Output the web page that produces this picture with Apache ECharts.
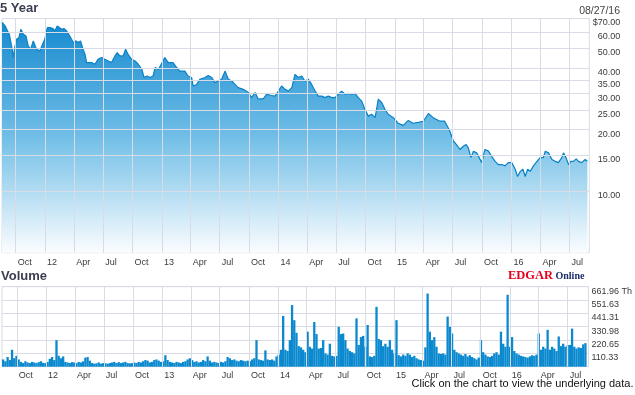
<!DOCTYPE html>
<html><head><meta charset="utf-8">
<script src="https://cdn.jsdelivr.net/npm/echarts@6/dist/echarts.min.js"></script>
<style>html,body{margin:0;padding:0;background:#fff}#c{width:635px;height:395px}</style>
</head><body><div id="c"></div>
<script>
// ---- data ----
const priceDates = ['2011-08-19','2011-08-29','2011-09-05','2011-09-11','2011-09-16','2011-09-20','2011-09-23','2011-09-29','2011-10-04','2011-10-11','2011-10-17','2011-10-25','2011-11-02','2011-11-09','2011-11-17','2011-11-25','2011-11-30','2011-12-05','2011-12-10','2011-12-16','2011-12-24','2011-12-31',
'2012-01-08','2012-01-16','2012-01-26','2012-02-01','2012-02-08','2012-02-14','2012-02-22','2012-02-29','2012-03-08','2012-03-15','2012-03-24','2012-03-29','2012-04-07','2012-04-14','2012-04-21','2012-04-29','2012-05-05','2012-05-10','2012-05-15','2012-05-26','2012-06-05','2012-06-15','2012-06-26','2012-07-06','2012-07-17','2012-07-27','2012-08-07','2012-08-14','2012-08-22','2012-09-02','2012-09-09','2012-09-17','2012-09-28','2012-10-09','2012-10-19','2012-10-30','2012-11-06','2012-11-15','2012-11-25','2012-12-04','2012-12-11','2012-12-21','2012-12-27',
'2013-01-10','2013-01-21','2013-02-05','2013-02-16','2013-02-26','2013-03-14','2013-03-24','2013-04-04','2013-04-09','2013-04-20','2013-04-30','2013-05-16','2013-05-26','2013-06-06','2013-06-16','2013-06-27','2013-07-07','2013-07-18','2013-07-28','2013-08-08','2013-08-18','2013-08-28','2013-09-13','2013-09-29','2013-10-09','2013-10-20','2013-10-30','2013-11-15','2013-11-25','2013-12-11','2013-12-21',
'2014-01-01','2014-01-11','2014-01-22','2014-02-01','2014-02-12','2014-02-22','2014-03-04','2014-03-15','2014-03-25','2014-04-05','2014-04-15','2014-04-26','2014-05-06','2014-05-17','2014-05-27','2014-06-06','2014-06-17','2014-06-27','2014-07-08','2014-07-18','2014-07-29','2014-08-08','2014-08-19','2014-08-29','2014-09-08','2014-09-19','2014-09-29','2014-10-10','2014-10-20','2014-10-31','2014-11-10','2014-11-21','2014-12-01','2014-12-11','2014-12-27',
'2015-01-11','2015-01-27','2015-02-12','2015-02-27','2015-03-15','2015-03-31','2015-04-16','2015-05-01','2015-05-22','2015-06-06','2015-06-12','2015-06-22','2015-07-03','2015-07-13','2015-07-24','2015-08-03','2015-08-12','2015-08-19','2015-08-27','2015-09-04','2015-09-14','2015-09-22','2015-09-30','2015-10-10','2015-10-21','2015-10-31','2015-11-11','2015-11-21','2015-12-02','2015-12-12','2015-12-22',
'2016-01-02','2016-01-13','2016-01-20','2016-01-29','2016-02-06','2016-02-13','2016-02-21','2016-02-29','2016-03-10','2016-03-21','2016-03-31','2016-04-10','2016-04-16','2016-04-26','2016-05-07','2016-05-17','2016-05-27','2016-06-07','2016-06-12','2016-06-20','2016-06-28','2016-07-05','2016-07-13','2016-07-22','2016-07-29','2016-08-08','2016-08-19','2016-08-26'];
const priceValues = [66.9,64.4,60.9,58.6,53.4,49.5,45.1,51.4,55.4,56.5,62.0,58.6,57.5,51.4,49.5,54.4,53.4,49.5,49.5,48.6,52.4,55.4,
63.2,63.2,62.5,60.9,64.4,65.6,62.0,62.5,60.9,58.6,55.4,53.4,54.4,53.4,54.4,49.5,46.8,42.6,41.8,42.6,41.8,44.2,45.1,44.2,43.4,42.6,45.9,47.7,45.9,45.9,49.5,46.8,44.2,43.4,41.8,39.5,36.0,36.6,36.0,36.6,40.3,39.5,41.0,
45.1,42.6,42.6,40.3,38.7,38.7,36.6,36.0,32.7,33.3,35.3,36.0,36.8,36.0,34.0,34.6,35.3,38.7,35.3,34.6,33.3,32.1,31.5,30.4,28.7,30.4,28.2,28.4,29.8,29.4,29.2,
30.9,32.7,31.5,30.9,32.1,37.3,36.0,36.6,34.6,35.3,33.3,30.9,29.2,29.2,28.7,29.2,28.7,28.7,29.8,30.9,29.8,30.1,29.8,30.1,28.7,27.6,25.1,23.3,23.8,22.9,28.2,27.1,25.1,23.8,22.9,
21.5,21.0,22.2,21.5,21.7,22.0,24.0,22.9,22.0,22.0,21.6,19.7,17.6,16.9,16.0,16.6,16.9,16.3,14.6,15.7,15.4,14.6,13.8,16.0,15.7,14.8,14.0,13.5,13.5,13.3,13.8,
13.8,12.8,11.8,12.5,12.8,11.8,12.8,12.5,13.3,14.0,14.6,14.6,15.7,15.4,14.3,14.0,13.8,14.6,15.4,14.6,13.5,14.0,14.0,14.4,14.0,13.8,14.3,14.0];

const volumeStart = '2011-08-19';   // weekly bars from this date
const volumeValues = [60,45,80,55,140,70,90,60,40,30,45,35,30,40,35,30,38,45,32,30,
40,65,80,55,220,90,70,85,40,35,30,38,35,30,40,35,45,75,80,50,
30,25,28,35,25,30,28,25,30,35,40,30,38,30,35,40,30,28,30,35,
30,40,35,45,55,50,35,40,55,60,50,40,45,95,55,40,35,30,40,35,
30,40,45,60,70,55,40,45,35,40,55,45,85,50,35,40,35,30,40,35,
45,80,70,55,60,50,45,55,50,45,50,45,60,70,220,60,55,50,135,60,
55,60,50,85,100,140,420,140,130,220,510,385,280,170,160,140,120,290,165,150,
370,270,150,155,220,110,100,190,90,85,90,330,270,275,220,150,130,120,110,400,
180,245,255,165,345,85,80,90,495,230,220,170,190,165,220,140,110,385,95,85,
100,90,110,100,80,90,70,60,55,50,160,605,290,220,245,165,110,105,110,100,
415,330,275,140,120,110,100,90,105,85,95,80,70,60,75,220,120,100,85,80,
90,110,120,100,290,190,165,595,165,245,130,110,100,90,85,80,75,85,95,90,
100,275,140,165,150,305,140,165,150,130,250,170,190,165,180,180,315,165,150,160,155,185,195];

const quarterTicks = ['2011-10-01','2012-01-01','2012-04-01','2012-07-01','2012-10-01','2013-01-01','2013-04-01','2013-07-01','2013-10-01','2014-01-01','2014-04-01','2014-07-01','2014-10-01','2015-01-01','2015-04-01','2015-07-01','2015-10-01','2016-01-01','2016-04-01','2016-07-01'];
const quarterLabels = ['Oct','12','Apr','Jul','Oct','13','Apr','Jul','Oct','14','Apr','Jul','Oct','15','Apr','Jul','Oct','16','Apr','Jul'];
const priceTicks = [10,15,20,25,30,35,40,50,60,70];
const priceTickLabels = ['10.00','15.00','20.00','25.00','30.00','35.00','40.00','50.00','60.00','$70.00'];
const volumeMax = 661.96;
const volumeTickLabels = ['110.33','220.65','330.98','441.31','551.63','661.96 Th'];

// ---- helpers ----
function parseDay(s){ const p = s.split('-'); return new Date(+p[0], +p[1]-1, +p[2]).getTime(); }
const DAY = 86400000;
const qTicks = quarterTicks.map(parseDay);
const FONT = '"Liberation Sans", Arial, Helvetica, sans-serif';
const GRID = '#d9dce4';
const LBL = '#3a3a3a';
const xMin = parseDay('2011-08-19'), xMax = parseDay('2016-09-01');
const v0 = parseDay(volumeStart);
const PMIN = 5, PMAX = 70;

function xAxis(gi){
  return {type:'time', gridIndex:gi, min:xMin, max:xMax,
    axisLine:{show:false}, axisTick:{show:false}, axisLabel:{show:false}, splitLine:{show:false}};
}
// vertical quarter grid lines + labels, drawn through the axes as markLines
function quarterLines(xi, yLo, yHi, dist){
  return {type:'line', xAxisIndex:xi, yAxisIndex:xi, data:[], z:1, silent:true,
    markLine:{silent:true, symbol:['none','none'], animation:false, emphasis:{disabled:true},
      lineStyle:{color:GRID, width:1, type:'solid'},
      label:{show:true, position:'start', distance:dist, align:'left', verticalAlign:'middle',
        padding:[0,0,0,2], color:LBL, fontSize:9, fontFamily:FONT},
      data: qTicks.map((t,i)=>[{coord:[t,yLo], label:{formatter:quarterLabels[i]}},{coord:[t,yHi]}])}};
}

const chart = echarts.init(document.getElementById('c'));
chart.setOption({
  animation:false,
  grid:[
    {left:2, right:45.7, top:18.5, height:234.2, show:true, borderColor:GRID, borderWidth:1, backgroundColor:'transparent'},
    {left:2, right:45.7, top:286.7, height:80, show:true, borderColor:GRID, borderWidth:1, backgroundColor:'transparent'}
  ],
  xAxis:[xAxis(0), xAxis(1)],
  yAxis:[
    {type:'log', logBase:10, gridIndex:0, min:PMIN, max:PMAX, position:'right',
     axisLine:{show:false}, axisTick:{show:false}, axisLabel:{show:false}, splitLine:{show:false}},
    {type:'value', gridIndex:1, position:'right', min:0, max:volumeMax, interval:volumeMax/6,
     axisLine:{show:false}, axisTick:{show:false},
     axisLabel:{formatter:v=>{ const i=Math.round(v/(volumeMax/6)); return i===0?'':volumeTickLabels[i-1]; },
       margin:3, align:'left', verticalAlign:'top', color:LBL, fontSize:9, fontFamily:FONT},
     splitLine:{show:true, lineStyle:{color:GRID, width:1}}}
  ],
  graphic:[
    {type:'text', left:0, top:2, style:{text:'5 Year', font:'bold 13px '+FONT, fill:'#3b3e50'}},
    {type:'text', right:15, top:6, style:{text:'08/27/16', font:'10.5px '+FONT, fill:'#444'}},
    {type:'text', left:1, top:270, style:{text:'Volume', font:'bold 13px '+FONT, fill:'#3b3e50'}},
    {type:'text', left:508, top:269, style:{text:'EDGAR', font:'bold 12.5px "Liberation Serif", "Times New Roman", serif', fill:'#e5001b'}},
    {type:'text', left:555.5, top:271.5, style:{text:'Online', font:'bold 10px "Liberation Serif", "Times New Roman", serif', fill:'#1b2c6b'}},
    {type:'text', left:411.5, top:378.5, style:{text:'Click on the chart to view the underlying data.', font:'11px '+FONT, fill:'#111'}}
  ],
  series:[
    {type:'line', xAxisIndex:0, yAxisIndex:0, data:[], z:1, silent:true,
     markLine:{silent:true, symbol:['none','none'], animation:false, emphasis:{disabled:true},
       lineStyle:{color:GRID, width:1, type:'solid'},
       label:{show:true, position:'end', distance:31, align:'right', verticalAlign:'top', color:LBL, fontSize:9, fontFamily:FONT},
       data: priceTicks.map((v,i)=>({yAxis:v, label:{formatter:priceTickLabels[i]}}))}},
    quarterLines(0, PMIN, PMAX, 10),
    quarterLines(1, 0, volumeMax, 9),
    {type:'line', xAxisIndex:0, yAxisIndex:0, z:2, symbol:'none', showSymbol:false,
     data: priceDates.map((d,i)=>[parseDay(d), priceValues[i]]),
     lineStyle:{color:'#0a82c6', width:1.2},
     areaStyle:{origin:'start', opacity:1, color:new echarts.graphic.LinearGradient(0,0,0,1,[
       {offset:0,color:'#168acf'},{offset:0.5,color:'#72bfe7'},{offset:1,color:'#fbfdff'}])}},
    {type:'bar', xAxisIndex:1, yAxisIndex:1, z:2, barWidth:2.3,
     data: volumeValues.map((v,i)=>[v0 + i*7*DAY, v]),
     itemStyle:{color:'#0b89cf'}}
  ]
});
</script></body></html>
